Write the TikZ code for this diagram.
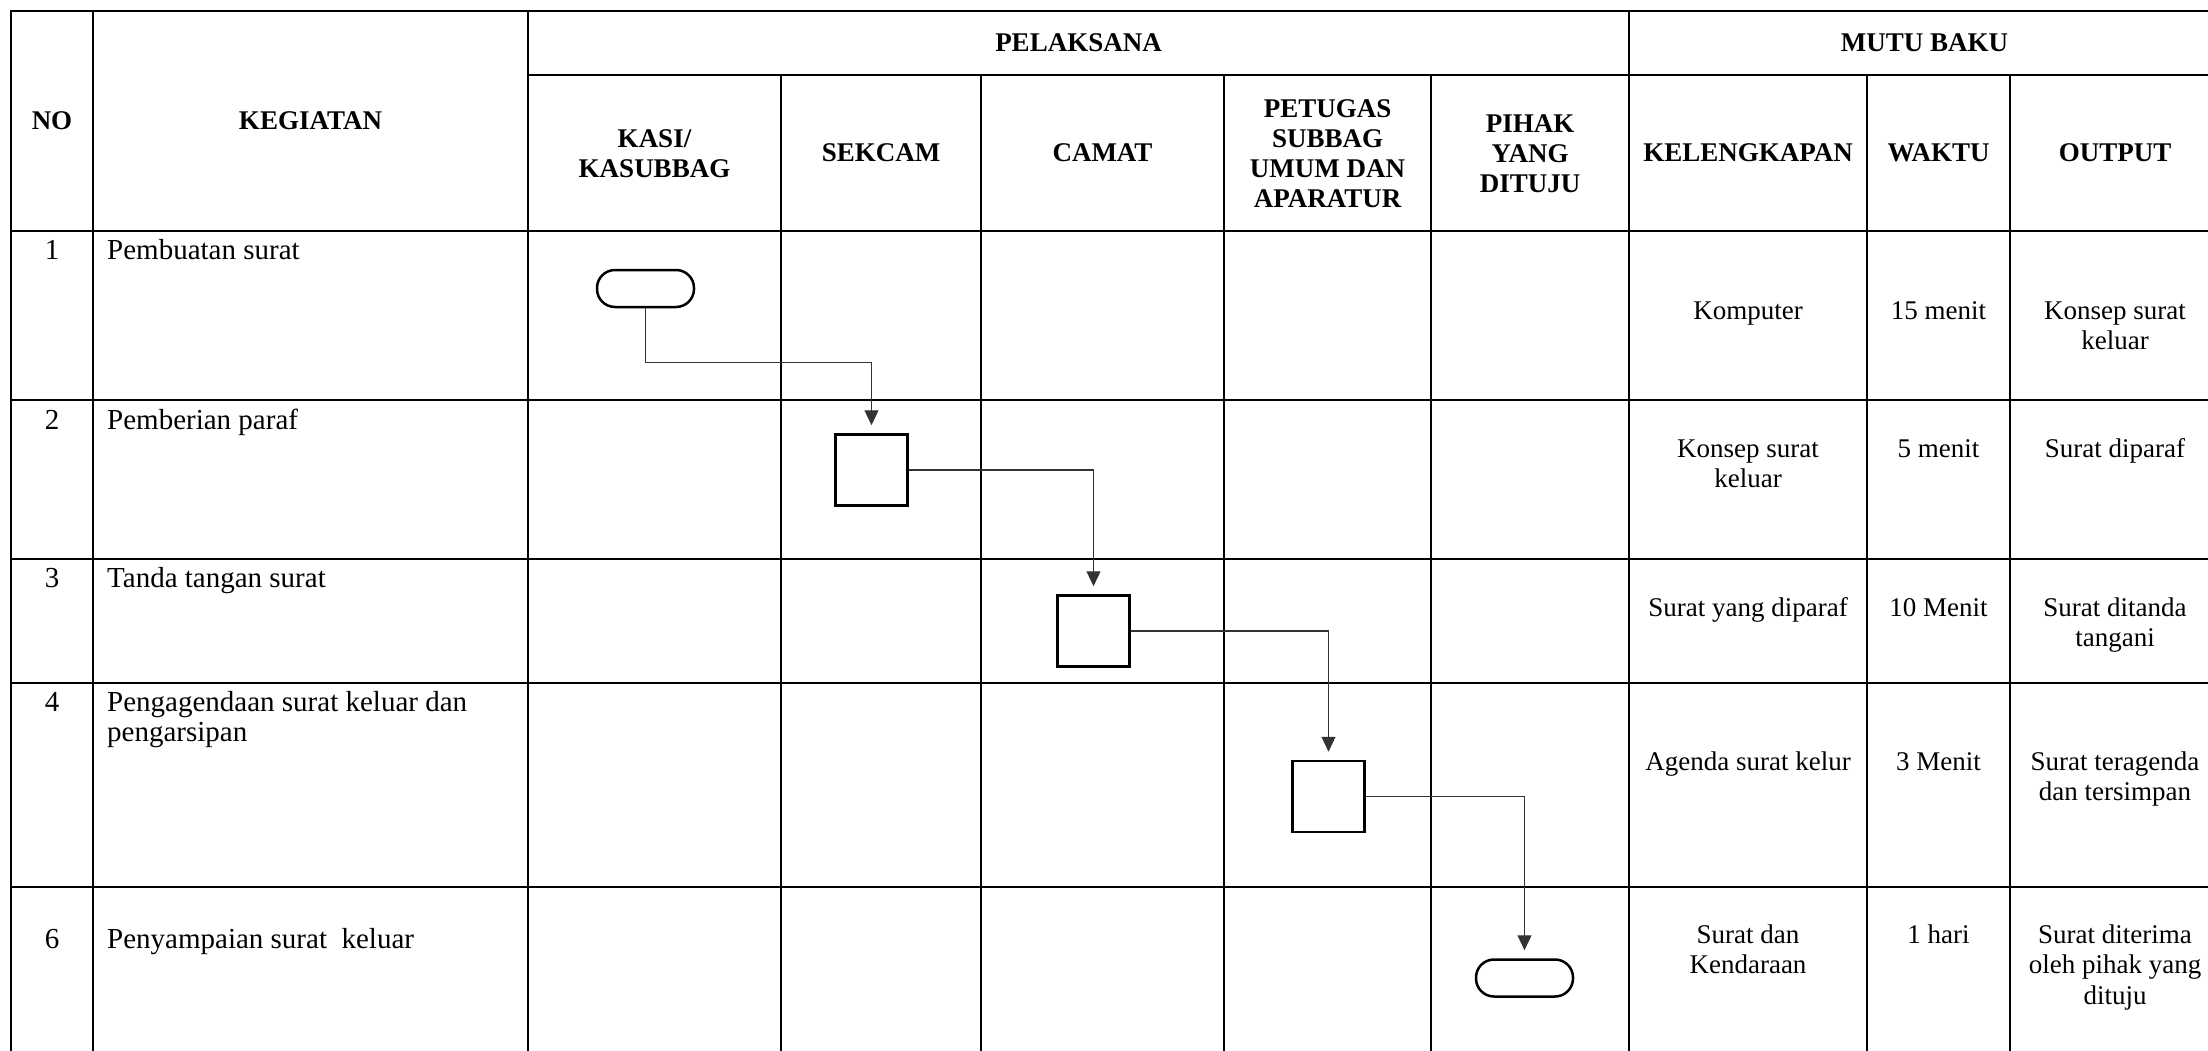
\documentclass[tikz,border=0pt]{standalone}
\usepackage{fontspec}
\setmainfont{Liberation Serif}
\usetikzlibrary{arrows.meta}

\begin{document}
\begin{tikzpicture}[x=1pt,y=-1pt,
    txt/.style={font=\fontsize{29}{30.5}\selectfont, inner sep=0pt, align=center},
    body/.style={txt, anchor=north, yshift=21.35pt},
    mutucell/.style={body, font=\fontsize{27}{30.5}\selectfont},
    head/.style={txt, font=\fontsize{27}{30}\selectfont\bfseries},
    rule/.style={line width=2pt},
    box/.style={draw, line width=2.5pt, minimum width=72pt, minimum height=71pt, inner sep=0pt},
    term/.style={draw, line width=2.5pt, rounded corners=18pt, minimum width=97pt, minimum height=37pt, inner sep=0pt},
    flow/.style={draw=black!80, line width=1.2pt, -{Triangle[length=15pt,width=14pt]}, shorten >=8pt}]

    \useasboundingbox (0,0) rectangle (2208,1051);

    % Table lines
    \draw[rule] (11,1051) -- (11,11) -- (2208,11);
    \draw[rule] (528,75) -- (2208,75);
    \foreach \y in {231,400,559,683,887}
        \draw[rule] (11,\y) -- (2208,\y);
    \foreach \x in {93,528,1629}
        \draw[rule] (\x,11) -- (\x,1051);
    \foreach \x in {781,981,1224,1431,1867,2010}
        \draw[rule] (\x,75) -- (\x,1051);

    % Header
    \node[head] (no) at (52,121) {NO};
    \node[head] (keg) at (310.5,121) {KEGIATAN};
    \node[head] (pel) at (1078.5,43) {PELAKSANA};
    \node[head] (mutu) at (1924.5,43) {MUTU BAKU};
    \node[head] (kasi) at (654.5,154) {KASI/\\KASUBBAG};
    \node[head] (sekcam) at (881,153) {SEKCAM};
    \node[head] (camat) at (1102.5,153) {CAMAT};
    \node[head] (petugas) at (1327.5,154) {PETUGAS\\SUBBAG\\UMUM DAN\\APARATUR};
    \node[head] (pihak) at (1530,154) {PIHAK\\YANG\\DITUJU};
    \node[head] (kel) at (1748,153) {KELENGKAPAN};
    \node[head] (waktu) at (1938.5,153) {WAKTU};
    \node[head] (output) at (2115,153) {OUTPUT};

    % Kegiatan
    \foreach \n/\yb/\kegiatan in {1/259/{Pembuatan surat}, 2/429/{Pemberian paraf},
        3/587/{Tanda tangan surat}, 4/711/{Pengagendaan surat keluar dan\\pengarsipan},
        6/948/{Penyampaian surat~ keluar}} {
        \node[body] (no\n) at (52,\yb) {\strut\n};
        \node[body, anchor=north west, align=left] (keg\n) at (107,\yb) {\strut\kegiatan};
    }

    % Mutu baku
    \foreach \n/\yb/\kelengkapan/\waktu/\hasil in {1/319/{Komputer}/{15 menit}/{Konsep surat\\keluar},
        2/457/{Konsep surat\\keluar}/{5 menit}/{Surat diparaf},
        3/616/{Surat yang diparaf}/{10 Menit}/{Surat ditanda\\tangani},
        4/770/{Agenda surat kelur}/{3 Menit}/{Surat teragenda\\dan tersimpan},
        6/943/{Surat dan\\Kendaraan}/{1 hari}/{Surat diterima\\oleh pihak yang\\dituju}} {
        \node[mutucell] (kel\n) at (1748,\yb) {\strut\kelengkapan};
        \node[mutucell] (waktu\n) at (1938.5,\yb) {\strut\waktu};
        \node[mutucell] (out\n) at (2115,\yb) {\strut\hasil};
    }

    % Flow symbols
    \node[term] (t1) at (645.5,288.5) {};
    \node[box] (b2) at (871.5,470) {};
    \node[box] (b3) at (1093.5,631) {};
    \node[box] (b4) at (1328.5,796.5) {};
    \node[term] (t6) at (1524.5,978) {};

    % Connectors
    \draw[flow] (t1.south) -- ++(0,54) -| (b2.north);
    \draw[flow] (b2.east) -| (b3.north);
    \draw[flow] (b3.east) -| (b4.north);
    \draw[flow] (b4.east) -| (t6.north);

\end{tikzpicture}
\end{document}
